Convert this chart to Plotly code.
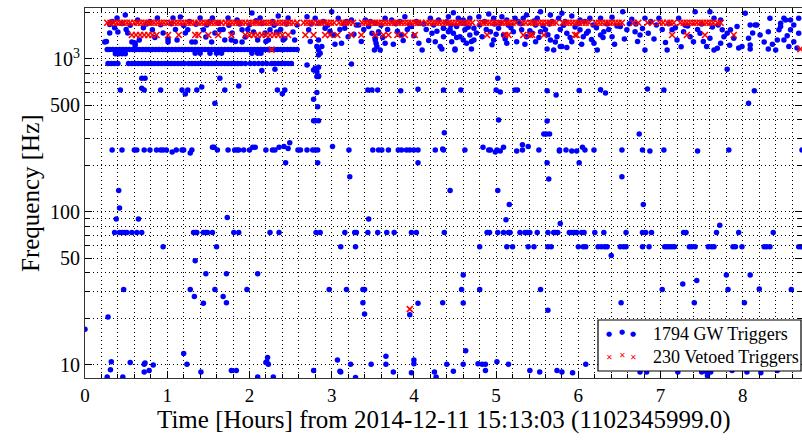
import plotly.graph_objects as go

# ---------------- DATA (time in hours, frequency in Hz) ----------------
# Blue GW triggers lying on horizontal lines: (frequency, times)
line_1155_freq = 1155
line_1155_t = [0.27, 0.30, 0.34, 0.38, 0.42, 0.46, 0.50, 0.54, 0.58, 0.62, 0.66, 0.70, 0.74, 0.78,
               0.82, 0.86, 0.90, 0.94, 0.98, 1.02, 1.06, 1.10, 1.14, 1.18, 1.22, 1.26, 1.30, 1.34,
               1.38, 1.42, 1.46, 1.50, 1.54, 1.58, 1.62, 1.66, 1.70, 1.74, 1.78, 1.82, 1.86, 1.90,
               1.94, 1.98, 2.02, 2.06, 2.10, 2.14, 2.18, 2.22, 2.26, 2.30, 2.34, 2.38, 2.42, 2.46,
               2.50, 2.54, 2.58]
line_935_freq = 935
line_935_t = [0.28, 0.32, 0.36, 0.40, 0.53, 0.57, 0.61, 0.65, 0.69, 0.73, 0.77, 0.81, 0.85, 0.89,
              0.93, 0.97, 1.01, 1.05, 1.09, 1.13, 1.17, 1.21, 1.26, 1.30, 1.34, 1.38, 1.42, 1.46,
              1.50, 1.54, 1.58, 1.62, 1.66, 1.70, 1.74, 1.78, 1.82, 1.86, 1.90, 1.95, 2.01, 2.06,
              2.11, 2.16, 2.21, 2.27, 2.31, 2.35, 2.39, 2.43, 2.47, 2.51]
line_254_freq = 254
line_254_t = [0.33, 0.45, 0.60, 0.63, 0.72, 0.79, 0.87, 0.92, 0.95, 0.99, 1.11, 1.18, 1.20, 1.30,
              1.61, 1.74, 1.82, 1.85, 1.87, 1.93, 2.00, 2.20, 2.28, 2.31, 2.59, 2.62, 2.70, 2.77,
              2.80, 2.83, 3.21, 3.50, 3.57, 3.61, 3.69, 3.81, 3.85, 3.91, 3.95, 4.00, 4.05, 4.26,
              4.36, 4.62, 4.91, 4.93, 5.01, 5.52, 5.85, 6.19, 6.53, 6.78, 7.04, 7.83, 8.72]
line_73_freq = 73.3
line_73_t = [0.36, 0.42, 0.45, 0.48, 0.51, 0.57, 0.63, 0.69, 1.32, 1.34, 1.36, 1.44, 1.47, 1.49,
             1.55, 1.81, 1.87, 2.25, 2.36, 2.81, 2.86, 3.16, 3.28, 3.30, 3.44, 3.56, 3.67, 3.76,
             3.97, 4.03, 4.37, 4.89, 4.92, 5.02, 5.09, 5.15, 5.17, 5.29, 5.35, 5.38, 5.41, 5.50,
             5.63, 5.70, 5.72, 5.75, 5.89, 5.92, 5.95, 5.98, 6.04, 6.07, 6.20, 6.31, 6.58, 6.78,
             6.82, 6.89, 7.28, 7.31, 7.68, 7.95, 8.37]
line_59_freq = 59.3
line_59_t = [0.95, 1.60, 3.11, 3.29, 4.80, 5.13, 5.20, 5.39, 5.46, 5.63, 5.67, 6.00, 6.06, 6.09,
             6.24, 6.28, 6.32, 6.35, 6.51, 6.55, 6.58, 6.78, 6.86, 7.05, 7.08, 7.11, 7.14, 7.17,
             7.35, 7.38, 7.42, 7.58, 7.62, 7.65, 7.88, 7.91, 7.99, 8.26, 8.29, 8.33, 8.68, 8.71]

# Scattered blue GW triggers above 1 kHz
gw_upper = [(0.26, 1300), (0.30, 1480), (0.36, 1600), (0.40, 1500), (0.39, 1850), (0.49, 1940),
            (0.52, 1480), (0.57, 1290), (0.61, 1230), (0.64, 1800), (0.71, 1600), (0.82, 1550),
            (0.88, 1850), (0.95, 1480), (1.01, 1290), (1.07, 1850), (1.16, 1880), (1.22, 1480),
            (1.25, 1550), (1.30, 1290), (1.40, 1850), (1.44, 1550), (1.55, 1850), (1.58, 1480),
            (1.64, 1550), (1.70, 1330), (1.74, 1850), (1.79, 1480), (1.85, 1800), (1.91, 1550),
            (1.95, 1390), (2.03, 2000), (2.05, 1500), (2.10, 1330), (2.13, 1850), (2.19, 1480),
            (2.25, 1550), (2.33, 1500), (2.35, 1910), (2.41, 1330), (2.47, 1850), (2.53, 1500),
            (0.24, 1290), (0.61, 1270), (1.01, 1340), (1.34, 1290), (1.54, 1290), (1.78, 1330),
            (1.91, 1290), (2.23, 1330), (2.43, 1360),
            (0.33, 1760), (0.50, 1560), (0.66, 1330), (0.79, 1760), (0.85, 1380), (1.10, 1560),
            (1.12, 1330), (1.27, 1760), (1.47, 1390), (1.52, 1760), (1.68, 1560), (1.83, 1300),
            (1.98, 1560), (2.08, 1780), (2.20, 1300), (2.28, 1760), (2.38, 1560), (2.55, 1330),
            (0.30, 1680), (0.45, 1705), (0.55, 1660), (0.75, 1690), (0.92, 1672), (1.05, 1700),
            (1.20, 1655), (1.35, 1688), (1.48, 1668), (1.62, 1710), (1.75, 1662), (1.88, 1692),
            (2.00, 1675), (2.15, 1702), (2.30, 1658), (2.45, 1690), (2.58, 1668),
            (0.37, 1080), (0.41, 1080), (0.45, 1080), (0.49, 1080), (1.34, 1090), (1.40, 1090),
            (1.52, 1090), (1.60, 1090), (1.66, 1090), (2.03, 1090), (2.10, 1090), (2.14, 1090),
            (2.70, 1890), (2.80, 1845), (2.84, 1712), (2.92, 1589), (3.00, 2037), (3.08, 1845),
            (3.16, 1589), (3.24, 1800), (3.33, 1669), (3.41, 1800), (3.45, 1627), (3.53, 1712),
            (3.57, 1508), (3.65, 1845), (3.73, 1800), (3.83, 1754), (3.89, 1890), (3.97, 1627),
            (4.06, 1712), (4.20, 1845), (4.24, 1669), (4.30, 1800), (4.36, 1589),
            (2.72, 1549), (2.84, 1331), (2.88, 1204), (3.02, 1435), (3.20, 1397), (3.12, 1266),
            (3.49, 1470), (3.53, 1331), (3.55, 1204), (3.57, 1470), (3.59, 1145), (3.65, 1266),
            (3.85, 1435), (4.06, 1266), (4.10, 1145), (4.22, 1470), (4.26, 1297), (4.32, 1204),
            (4.36, 1397), (2.84, 1145), (2.86, 1090), (3.53, 1364), (3.54, 1266), (3.52, 1145),
            (2.82, 1204), (2.84, 1060),
            (2.74, 1300), (2.90, 1760), (2.98, 1520), (3.04, 1250), (3.10, 1560), (3.18, 1760),
            (3.27, 1450), (3.36, 1300), (3.39, 1560), (3.47, 1760), (3.62, 1380), (3.68, 1560),
            (3.75, 1250), (3.80, 1520), (3.87, 1320), (3.92, 1560), (4.00, 1420), (4.03, 1760),
            (4.15, 1560), (4.18, 1320), (4.28, 1520),
            (2.75, 1690), (2.95, 1660), (3.15, 1700), (3.30, 1670), (3.60, 1660), (3.78, 1700),
            (3.95, 1670), (4.12, 1690),
            (4.48, 2005), (4.42, 1890), (4.54, 1845), (4.60, 1800), (4.68, 1845), (4.79, 1890),
            (4.91, 1968), (4.97, 1845), (5.07, 1890), (5.13, 1800), (5.23, 1845), (5.33, 1845),
            (5.37, 1939), (5.50, 1845), (5.54, 2037), (5.66, 1939), (5.76, 1845), (5.80, 1990),
            (5.92, 1911), (6.02, 1800), (6.14, 1845), (6.27, 1845), (6.41, 1875), (6.54, 2037),
            (6.65, 1818), (6.81, 1845), (6.98, 1845), (7.22, 1845), (7.42, 2037), (7.60, 2037),
            (7.65, 1845), (7.73, 1800), (8.03, 1990), (8.09, 1669), (8.17, 1669), (8.33, 1845),
            (8.46, 1712), (8.50, 1845), (8.58, 1800), (8.62, 1669), (8.68, 1845),
            (4.36, 1589), (4.42, 1508), (4.48, 1470), (4.52, 1627), (4.56, 1397), (4.62, 1549),
            (4.68, 1435), (4.73, 1589), (4.46, 1297), (4.50, 1145), (4.60, 1331), (4.64, 1266),
            (4.73, 1331), (4.83, 1397), (4.93, 1508), (4.97, 1331), (5.03, 1589), (5.09, 1435),
            (5.13, 1266), (5.21, 1508), (5.25, 1297), (5.31, 1549), (5.37, 1397), (5.44, 1470),
            (5.48, 1297), (5.54, 1508), (5.60, 1549), (5.66, 1331), (5.70, 1145), (5.74, 1397),
            (5.80, 1204), (5.86, 1470), (5.92, 1297), (6.02, 1549), (6.06, 1397), (6.10, 1470),
            (6.19, 1266), (6.23, 1145), (6.27, 1435), (6.31, 1508), (6.41, 1397), (6.51, 1627),
            (6.59, 1549), (6.69, 1508), (6.75, 1435), (6.81, 1145), (6.85, 1470), (7.08, 1145),
            (7.14, 1549), (7.20, 1331), (7.28, 1508), (7.36, 1397), (7.40, 1297), (7.48, 1470),
            (7.56, 1204), (7.60, 1364), (7.65, 1145), (7.69, 1175), (7.73, 1266), (7.77, 1397),
            (7.81, 1470), (7.85, 1549), (7.89, 1364), (7.93, 1627), (7.99, 1204), (8.07, 1364),
            (8.09, 1234), (8.15, 1669), (8.21, 1435), (8.31, 1508), (8.40, 1145), (8.42, 1331),
            (8.46, 1627), (8.50, 1331), (8.52, 1800), (8.56, 1204), (8.58, 1549), (8.62, 1297),
            (8.68, 1470),
            (4.40, 1750), (4.44, 1560), (4.52, 1380), (4.58, 1720), (4.66, 1610), (4.70, 1300),
            (4.76, 1480), (4.86, 1760), (4.88, 1560), (4.95, 1240), (5.00, 1450), (5.05, 1720),
            (5.11, 1350), (5.18, 1600), (5.27, 1760), (5.35, 1250), (5.41, 1530), (5.46, 1770),
            (5.52, 1380), (5.57, 1650), (5.63, 1440), (5.68, 1760), (5.72, 1290), (5.78, 1560),
            (5.84, 1760), (5.90, 1380), (5.96, 1620), (6.04, 1250), (6.08, 1760), (6.12, 1520),
            (6.16, 1340), (6.22, 1600), (6.30, 1380), (6.37, 1560), (6.44, 1250), (6.47, 1640),
            (6.56, 1350), (6.62, 1700), (6.72, 1300), (6.78, 1580), (6.88, 1760), (6.92, 1350),
            (7.02, 1560), (7.06, 1280), (7.18, 1600), (7.25, 1200), (7.33, 1640), (7.45, 1560),
            (7.52, 1300), (7.63, 1620), (7.75, 1550), (7.84, 1230), (7.95, 1180), (8.12, 1480),
            (8.26, 1290), (8.36, 1250), (8.44, 1550), (8.54, 1420), (8.66, 1180),
            (4.45, 1660), (4.62, 1700), (4.80, 1670), (4.98, 1690), (5.15, 1660), (5.30, 1700),
            (5.48, 1670), (5.65, 1690), (5.82, 1660), (6.00, 1700), (6.18, 1670), (6.35, 1690),
            (6.50, 1660), (6.70, 1690), (6.95, 1670), (7.10, 1700), (7.30, 1660), (7.50, 1690),
            (7.70, 1670),
            (4.34, 1163), (4.50, 1163), (4.70, 1163), (5.62, 1163), (5.78, 1204), (5.86, 1190),
            (8.09, 1163), (8.31, 1163)]

# Scattered blue GW triggers between 100 Hz and 1 kHz
gw_mid = [(2.15, 839), (2.31, 856), (1.64, 748), (0.69, 748), (0.73, 748), (2.70, 913),
          (2.78, 847), (2.84, 882), (2.82, 767), (2.84, 767), (3.24, 927), (2.80, 869),
          (2.82, 826), (2.84, 774), (7.81, 856), (5.02, 748),
          (0.43, 627), (0.69, 643), (0.72, 627), (0.92, 627), (1.18, 627), (1.22, 590),
          (1.25, 627), (1.36, 627), (1.42, 655), (1.70, 627), (1.87, 666), (2.34, 627),
          (2.40, 593), (2.43, 627), (3.44, 627), (3.49, 627), (3.56, 627), (3.84, 620),
          (4.05, 633), (4.36, 627), (4.57, 627), (5.00, 627), (5.05, 609), (5.23, 627),
          (5.26, 627), (5.62, 620), (5.73, 582), (6.01, 622), (6.27, 630), (6.33, 598),
          (6.84, 636), (7.04, 627), (8.14, 620),
          (1.58, 514), (2.82, 603), (2.78, 545), (2.83, 488), (2.78, 395), (2.80, 395),
          (2.84, 395), (8.07, 514), (5.03, 399), (5.62, 393), (4.37, 330), (5.58, 323),
          (5.61, 323), (5.65, 323), (6.74, 323),
          (1.06, 247), (1.28, 243), (1.55, 265), (1.57, 265), (2.04, 265), (2.07, 265),
          (2.36, 265), (2.42, 268), (2.47, 260), (2.49, 283), (3.01, 268), (4.35, 258),
          (4.84, 265), (4.99, 247), (5.05, 250), (5.09, 265), (5.25, 250), (5.32, 254),
          (5.32, 275), (5.39, 268), (5.77, 254), (5.77, 250), (5.92, 250), (5.98, 250),
          (6.05, 265), (6.08, 254), (6.87, 250), (7.45, 250),
          (2.44, 210), (2.83, 210), (3.22, 170), (4.05, 210), (5.62, 210), (6.01, 210),
          (6.53, 170), (5.64, 164), (0.41, 138), (4.44, 138), (5.02, 138), (5.16, 112),
          (6.79, 112), (0.42, 106)]

# Scattered blue GW triggers below 100 Hz
gw_low = [(0.38, 90), (0.65, 90), (1.73, 92), (3.45, 90), (5.12, 89), (5.78, 84), (7.72, 82),
          (1.34, 48), (1.47, 39.4), (1.72, 39.4), (2.10, 39.4), (0.47, 31.2), (1.28, 31.2),
          (1.58, 31.2), (1.97, 31.2), (2.97, 31.2), (3.18, 31.2), (3.38, 31.2), (3.40, 31.2),
          (1.33, 28), (1.68, 28), (1.44, 25.3), (1.72, 25.5), (3.38, 25.5), (3.40, 21.5),
          (0.28, 20.6), (0.0, 17.1), (3.95, 21.3), (4.05, 25.3), (4.35, 25.5), (4.58, 31.2),
          (4.80, 31.2), (4.60, 25.4), (4.63, 12.4), (6.40, 52), (4.60, 38.7), (7.80, 38.7),
          (8.09, 38.7), (7.44, 35.6), (7.27, 33.8), (5.54, 31.2), (7.02, 31.2), (7.82, 31.2),
          (8.20, 31.4), (8.59, 31.2), (6.52, 25.5), (7.41, 25.5), (8.02, 25.5), (5.63, 22.8),
          (0.32, 10.5), (0.31, 9.3), (0.27, 8.35), (0.46, 8.35), (0.55, 10.4), (0.73, 10.3),
          (0.72, 10.1), (0.72, 9.0), (0.78, 9.2), (0.83, 10.0), (1.20, 11.9), (1.24, 10.1),
          (1.41, 9.0), (1.78, 9.2), (1.84, 9.2), (2.10, 8.35), (2.22, 11.2), (2.21, 10.5),
          (2.23, 10.1), (2.20, 10.4), (2.29, 8.35), (2.78, 9.2), (3.07, 10.8), (3.10, 9.1),
          (3.11, 9.0), (3.23, 10.1), (3.29, 8.3), (3.48, 10.1), (3.66, 11.4), (3.66, 10.1),
          (3.75, 9.0), (3.97, 8.9), (4.00, 10.8), (4.00, 10.2), (4.25, 9.0), (4.27, 8.35),
          (4.40, 10.1), (4.48, 9.1), (4.60, 10.1), (4.78, 10.2), (4.83, 10.1), (4.87, 10.1),
          (4.87, 9.2), (5.01, 10.5), (5.15, 10.1), (5.41, 9.2), (5.53, 9.0), (5.74, 9.2),
          (5.80, 9.0), (5.93, 8.9), (6.09, 10.1), (6.75, 9.0), (6.83, 9.0), (7.21, 9.0),
          (7.50, 9.0), (7.56, 9.0), (7.61, 9.0), (7.57, 8.5), (7.87, 9.2), (8.05, 9.0),
          (8.22, 8.9), (8.42, 9.2)]

# Red vetoed triggers
veto_top_freq = 1725
veto_top_t = [0.27, 0.31, 0.35, 0.39, 0.43, 0.47, 0.51, 0.55, 0.60, 0.64, 0.68, 0.72, 0.76, 0.80,
              0.84, 0.88, 0.92, 0.96, 1.00, 1.05, 1.09, 1.13, 1.17, 1.21, 1.25, 1.29, 1.33, 1.38,
              1.42, 1.46, 1.50, 1.54, 1.58, 1.62, 1.66, 1.71, 1.75, 1.79, 1.83, 1.87, 1.91, 1.95,
              2.00, 2.04, 2.08, 2.12, 2.16, 2.20, 2.24, 2.28, 2.33, 2.37, 2.41, 2.45, 2.49, 2.53,
              2.58, 2.66, 2.70, 2.74, 2.78, 2.83, 2.87, 2.91, 2.95, 2.99, 3.03, 3.09, 3.13, 3.17,
              3.21, 3.26, 3.37, 3.41, 3.45, 3.49, 3.53, 3.57, 3.61, 3.65, 3.69, 3.73, 3.77, 3.81,
              3.85, 3.89, 3.93, 3.97, 4.01, 4.05, 4.09, 4.15, 4.19, 4.23, 4.27, 4.31, 4.35, 4.39,
              4.43, 4.47, 4.51, 4.55, 4.59, 4.63, 4.67, 4.71, 4.80, 4.84, 4.88, 4.92, 4.96, 5.00,
              5.04, 5.08, 5.12, 5.16, 5.20, 5.24, 5.32, 5.36, 5.41, 5.45, 5.49, 5.53, 5.57, 5.61,
              5.65, 5.69, 5.73, 5.81, 5.85, 5.89, 5.93, 5.97, 6.01, 6.05, 6.09, 6.13, 6.21, 6.25,
              6.29, 6.33, 6.37, 6.41, 6.45, 6.49, 6.53, 6.67, 6.73, 6.84, 6.90, 6.99, 7.03, 7.08,
              7.12, 7.16, 7.24, 7.28, 7.32, 7.36, 7.40, 7.44, 7.48, 7.52, 7.56, 7.60, 7.64, 7.69,
              7.73]
veto_2nd_freq = 1435
veto_2nd_t = [0.57, 0.62, 0.67, 0.72, 0.77, 0.82, 0.87, 1.01, 1.14, 1.34, 1.38, 1.50, 1.62, 1.78,
              1.95, 2.00, 2.05, 2.10, 2.15, 2.20, 2.25, 2.30, 2.35, 2.40, 2.47, 2.68, 2.78, 2.92,
              2.98, 3.07, 3.24, 3.36, 3.53, 3.63, 3.69, 3.80, 3.89, 4.01, 4.89, 5.11, 5.15, 5.33,
              5.41, 5.44, 5.58, 5.96, 5.98, 7.14, 7.32, 7.54, 7.89]
veto_other = [(2.27, 1150), (3.95, 23.2), (8.70, 1160)]

gw_label = "1794 GW Triggers"
veto_label = "230 Vetoed Triggers"
x_title = "Time [Hours] from 2014-12-11 15:13:03 (1102345999.0)"
y_title = "Frequency [Hz]"
y_tickvals = [10, 50, 100, 500, 1000]
y_ticktext = ["10", "50", "100", "500", "10<sup>3</sup>"]
y_minor = [20, 30, 40, 60, 70, 80, 90, 200, 300, 400, 600, 700, 800, 900, 2000]

# ---------------- BUILD ----------------
gw_t, gw_f = [], []
for freq, times in [(line_1155_freq, line_1155_t), (line_935_freq, line_935_t),
                    (line_254_freq, line_254_t), (line_73_freq, line_73_t),
                    (line_59_freq, line_59_t)]:
    gw_t += times
    gw_f += [freq] * len(times)
for group in (gw_upper, gw_mid, gw_low):
    gw_t += [p[0] for p in group]
    gw_f += [p[1] for p in group]

vt_t = veto_top_t + veto_2nd_t + [p[0] for p in veto_other]
vt_f = [veto_top_freq] * len(veto_top_t) + [veto_2nd_freq] * len(veto_2nd_t) + [p[1] for p in veto_other]

FONT = "Liberation Serif"
BLUE = "#0000ff"
RED = "#ff0000"
fig = go.Figure()
fig.add_trace(go.Scatter(x=gw_t, y=gw_f, mode="markers", name=gw_label,
                         marker=dict(color=BLUE, size=5.5, line=dict(width=0)),
                         hoverinfo="skip", showlegend=False))
fig.add_trace(go.Scatter(x=vt_t, y=vt_f, mode="markers", name=veto_label,
                         marker=dict(symbol="x-thin", color=RED, size=6,
                                     line=dict(width=1.6, color=RED)),
                         hoverinfo="skip", showlegend=False))

grid_dash = "1px,3px"
fig.update_xaxes(range=[0, 8.72], showline=True, linecolor="#333333", linewidth=1.2,
                 mirror="allticks", ticks="inside", ticklen=7, tickcolor="black",
                 dtick=1, tick0=0, showgrid=True, gridcolor="black", gridwidth=1,
                 griddash=grid_dash, zeroline=False,
                 tickfont=dict(family=FONT, size=19, color="black"),
                 minor=dict(dtick=0.2, tick0=0, showgrid=True, gridcolor="black",
                            gridwidth=1, griddash=grid_dash, ticks="inside", ticklen=4,
                            tickcolor="black"))
fig.update_yaxes(type="log", range=[0.915, 3.333], showline=True, linecolor="#333333",
                 linewidth=1.2, mirror="allticks", ticks="inside", ticklen=7,
                 tickcolor="black", tickvals=y_tickvals, ticktext=y_ticktext,
                 showgrid=True, gridcolor="black", gridwidth=1, griddash=grid_dash,
                 zeroline=False, tickfont=dict(family=FONT, size=20, color="black"),
                 minor=dict(tickvals=y_minor, showgrid=True, gridcolor="black", gridwidth=1,
                            griddash=grid_dash, ticks="inside", ticklen=4, tickcolor="black"))

# ---- custom legend box (matplotlib style, three sample markers per entry) ----
PL, PW, PT, PH = 85, 717, 8, 370          # plot area in pixels, for paper conversion
def px(xp):
    return (xp - PL) / PW
def py(yp):
    return (PT + PH - yp) / PH

annotations = [
    dict(text=x_title, xref="paper", yref="paper", x=0.5, y=0, xanchor="center",
         yanchor="middle", yshift=-42, showarrow=False,
         font=dict(family=FONT, size=25, color="black")),
    dict(text=y_title, xref="paper", yref="paper", x=0, y=0.5, xanchor="center",
         yanchor="middle", xshift=-55, textangle=-90, showarrow=False,
         font=dict(family=FONT, size=25, color="black")),
    dict(text=gw_label, xref="paper", yref="paper", x=px(651), y=py(334), xanchor="left",
         yanchor="middle", showarrow=False, font=dict(family=FONT, size=18, color="black")),
    dict(text=veto_label, xref="paper", yref="paper", x=px(651), y=py(357), xanchor="left",
         yanchor="middle", showarrow=False, font=dict(family=FONT, size=18, color="black")),
]
for xm, ym in [(609, 334), (622, 332), (633, 334)]:
    annotations.append(dict(text="●", xref="paper", yref="paper", x=px(xm), y=py(ym),
                            xanchor="center", yanchor="middle", showarrow=False,
                            font=dict(family="DejaVu Sans", size=7, color=BLUE)))
for xm, ym in [(609, 357), (622, 355), (633, 357)]:
    annotations.append(dict(text="✕", xref="paper", yref="paper", x=px(xm), y=py(ym),
                            xanchor="center", yanchor="middle", showarrow=False,
                            font=dict(family="DejaVu Sans", size=8, color=RED)))

fig.update_layout(
    width=802, height=442,
    margin=dict(l=85, r=0, t=8, b=64, autoexpand=False),
    paper_bgcolor="white", plot_bgcolor="white",
    font=dict(family=FONT, color="black"),
    showlegend=False,
    shapes=[dict(type="rect", xref="paper", yref="paper", x0=px(598), x1=px(801),
                 y0=py(371), y1=py(320), fillcolor="white",
                 line=dict(color="black", width=1.2), layer="above")],
    annotations=annotations,
)

fig.write_html("out.html", config={"displayModeBar": False},
               post_script="document.body.style.margin='0';")
